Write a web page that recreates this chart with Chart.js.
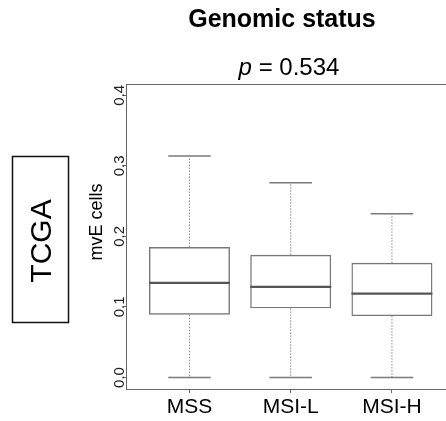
<!DOCTYPE html>
<html>
<head>
<meta charset="utf-8">
<script src="https://cdn.jsdelivr.net/npm/chart.js@4.4.1/dist/chart.umd.min.js"></script>
<style>
  html, body { margin: 0; padding: 0; background: #fff; overflow: hidden; }
  canvas { display: block; }
</style>
</head>
<body>
<canvas id="box-chart" width="446" height="421"></canvas>
<script>
// Box plot data
const categories = ['MSS', 'MSI-L', 'MSI-H'];
const whiskerLow = [0, 0, 0];
const q1 = [0.089, 0.098, 0.087];
const medians = [0.134, 0.1285, 0.119];
const q3 = [0.185, 0.174, 0.1625];
const whiskerHigh = [0.314, 0.276, 0.232];
const yTicks = [0, 0.1, 0.2, 0.3, 0.4];

const FONT = '"Liberation Sans", Arial, Helvetica, sans-serif';
const AXIS_COLOR = '#666';

// Boxes as floating bars
const boxData = categories.map((c, i) => ({ x: i + 1, y: [q1[i], q3[i]] }));

// Whiskers, caps, medians, frame and rotated texts
const boxExtras = {
    id: 'boxExtras',
    afterDatasetsDraw(chart) {
        const ctx = chart.ctx;
        const xs = chart.scales.x;
        const ys = chart.scales.y;
        const area = chart.chartArea;
        const capHalf = 0.21;
        const boxHalf = 0.4;

        ctx.save();
        categories.forEach((c, i) => {
            const cx = xs.getPixelForValue(i + 1);
            // dotted whiskers
            ctx.strokeStyle = '#8a8a8a';
            ctx.lineWidth = 1;
            ctx.setLineDash([1.5, 1.5]);
            ctx.beginPath();
            ctx.moveTo(cx, ys.getPixelForValue(q3[i]));
            ctx.lineTo(cx, ys.getPixelForValue(whiskerHigh[i]));
            ctx.moveTo(cx, ys.getPixelForValue(q1[i]));
            ctx.lineTo(cx, ys.getPixelForValue(whiskerLow[i]));
            ctx.stroke();
            ctx.setLineDash([]);

            // caps
            ctx.strokeStyle = '#7a7a7a';
            ctx.lineWidth = 1.5;
            ctx.beginPath();
            [whiskerHigh[i], whiskerLow[i]].forEach(v => {
                const py = ys.getPixelForValue(v);
                ctx.moveTo(xs.getPixelForValue(i + 1 - capHalf), py);
                ctx.lineTo(xs.getPixelForValue(i + 1 + capHalf), py);
            });
            ctx.stroke();

            // median
            ctx.strokeStyle = '#555';
            ctx.lineWidth = 2.2;
            const my = ys.getPixelForValue(medians[i]);
            ctx.beginPath();
            ctx.moveTo(xs.getPixelForValue(i + 1 - boxHalf), my);
            ctx.lineTo(xs.getPixelForValue(i + 1 + boxHalf), my);
            ctx.stroke();
        });

        // top frame line
        ctx.strokeStyle = AXIS_COLOR;
        ctx.lineWidth = 1;
        ctx.beginPath();
        ctx.moveTo(area.left, area.top + 0.5);
        ctx.lineTo(area.right, area.top + 0.5);
        ctx.stroke();

        // y tick labels, rotated like in R
        ctx.fillStyle = '#222';
        ctx.font = '15px ' + FONT;
        ctx.textAlign = 'center';
        ctx.textBaseline = 'alphabetic';
        yTicks.forEach(v => {
            ctx.save();
            ctx.translate(124, ys.getPixelForValue(v));
            ctx.rotate(-Math.PI / 2);
            ctx.fillText(v.toFixed(1), 0, 0);
            ctx.restore();
        });

        // y axis title
        ctx.fillStyle = '#000';
        ctx.font = '18px ' + FONT;
        ctx.save();
        ctx.translate(102, 222);
        ctx.rotate(-Math.PI / 2);
        ctx.fillText('mvE cells', 0, 0);
        ctx.restore();

        // TCGA label box
        ctx.strokeStyle = '#111';
        ctx.lineWidth = 1.5;
        ctx.strokeRect(12.5, 156.5, 56, 166);
        ctx.font = '30px ' + FONT;
        ctx.save();
        ctx.translate(51, 241);
        ctx.rotate(-Math.PI / 2);
        ctx.fillText('TCGA', 0, 0);
        ctx.restore();

        // title and p value
        ctx.font = 'bold 25px ' + FONT;
        ctx.fillText('Genomic status', 282, 27);

        const pText = 'p';
        const rest = ' = 0.534';
        ctx.font = 'italic 24px ' + FONT;
        const wp = ctx.measureText(pText).width;
        ctx.font = '24px ' + FONT;
        const wr = ctx.measureText(rest).width;
        const startX = 289 - (wp + wr) / 2;
        ctx.textAlign = 'left';
        ctx.font = 'italic 24px ' + FONT;
        ctx.fillText(pText, startX, 75);
        ctx.font = '24px ' + FONT;
        ctx.fillText(rest, startX + wp, 75);
        ctx.restore();
    }
};

new Chart(document.getElementById('box-chart'), {
    type: 'bar',
    data: {
        datasets: [{
            data: boxData,
            backgroundColor: 'rgba(255,255,255,0)',
            borderColor: '#777',
            borderWidth: 1.4,
            borderSkipped: false,
            barPercentage: 0.8,
            categoryPercentage: 1.0
        }]
    },
    options: {
        responsive: false,
        animation: false,
        devicePixelRatio: 1,
        layout: { padding: { top: 84, left: 0, right: 0, bottom: 0 } },
        plugins: {
            legend: { display: false },
            tooltip: { enabled: false },
            title: { display: false }
        },
        scales: {
            x: {
                type: 'linear',
                offset: false,
                min: 0.38,
                max: 3.534,
                afterBuildTicks: scale => {
                    scale.ticks = categories.map((c, i) => ({ value: i + 1 }));
                },
                afterFit: scale => { scale.height = 32; },
                ticks: {
                    autoSkip: false,
                    maxRotation: 0,
                    padding: 2,
                    color: '#000',
                    font: { family: FONT, size: 21 },
                    callback: (v) => categories[Math.round(v) - 1] || ''
                },
                grid: {
                    offset: false,
                    drawOnChartArea: false,
                    drawTicks: true,
                    tickLength: 4,
                    color: AXIS_COLOR
                },
                border: { display: true, color: AXIS_COLOR, width: 1 }
            },
            y: {
                min: -0.0163,
                max: 0.416,
                afterBuildTicks: scale => {
                    scale.ticks = yTicks.map(v => ({ value: v }));
                },
                afterFit: scale => { scale.width = 126.7; },
                ticks: { display: false },
                grid: {
                    drawOnChartArea: false,
                    drawTicks: true,
                    tickLength: 3,
                    color: AXIS_COLOR
                },
                border: { display: true, color: AXIS_COLOR, width: 1 }
            }
        }
    },
    plugins: [boxExtras]
});
</script>
</body>
</html>
